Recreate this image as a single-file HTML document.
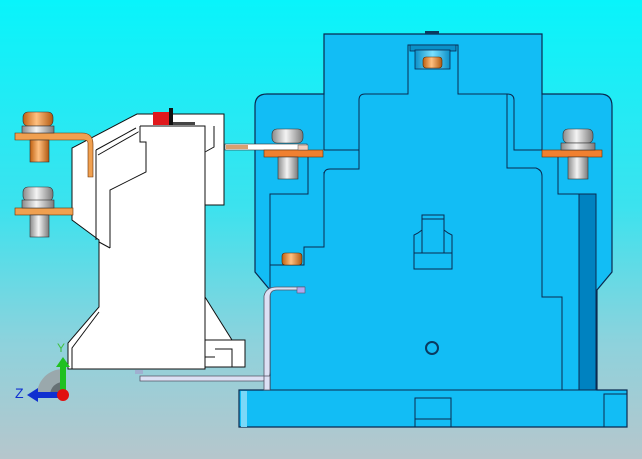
<!DOCTYPE html>
<html><head><meta charset="utf-8"><style>
html,body{margin:0;padding:0;width:642px;height:459px;overflow:hidden}
svg{display:block}
</style></head><body>
<svg width="642" height="459" viewBox="0 0 642 459" xmlns="http://www.w3.org/2000/svg">
<defs>
<linearGradient id="bg" x1="0" y1="0" x2="0" y2="1">
<stop offset="0" stop-color="#08f4fb"/><stop offset="0.45" stop-color="#3ce2ee"/><stop offset="0.75" stop-color="#8ed2dc"/><stop offset="1" stop-color="#b6c6cc"/>
</linearGradient>
<linearGradient id="silver" x1="0" y1="0" x2="1" y2="0">
<stop offset="0" stop-color="#8a8a8a"/><stop offset="0.45" stop-color="#f4f4f4"/><stop offset="1" stop-color="#7a7a7a"/>
</linearGradient>
<linearGradient id="copper" x1="0" y1="0" x2="1" y2="0">
<stop offset="0" stop-color="#c06010"/><stop offset="0.45" stop-color="#ffc080"/><stop offset="1" stop-color="#b05810"/>
</linearGradient>
<linearGradient id="recess" x1="0" y1="0" x2="1" y2="0">
<stop offset="0" stop-color="#0a90c8"/><stop offset="0.5" stop-color="#7ae0ff"/><stop offset="1" stop-color="#0a90c8"/>
</linearGradient>
</defs>
<rect width="642" height="459" fill="url(#bg)"/>

<!-- main contactor body -->
<g stroke="#0a2a50" stroke-width="1.2" fill="#12bdf5">
<path d="M324,94 L324,34 L542,34 L542,94 L600,94 Q612,94 612,106 L612,272 L597,290 L597,390 L627,390 L627,427 L239,427 L239,390 L270,390 L270,290 L255,272 L255,106 Q255,94 267,94 Z"/>
</g>
<g stroke="#0a2a50" stroke-width="1" fill="none">
<path d="M255,283"/>
<line x1="324" y1="36" x2="324" y2="150"/>
<line x1="542" y1="36" x2="542" y2="150"/>
<path d="M324,150 L359,150 L359,100 Q359,94 365,94 L408,94 L408,45 L458,45 L458,94 L507,94 Q514,94 514,100 L514,150 L542,150"/>
<path d="M359,150 L359,169 L330,169 Q324,169 324,175 L324,247 L304,247 L304,265 L270,265"/>
<line x1="324" y1="172" x2="324" y2="247"/>
<path d="M507,94 L507,168 L536,168 Q542,170 542,176 L542,297 L562,297 L562,390"/>
<path d="M270,290 L270,194 L308,194 L308,157"/>
<path d="M558,157 L558,194 L596,194"/>
<line x1="239" y1="390" x2="627" y2="390"/>
<path d="M415,427 L415,398 L451,398 L451,427 M415,419 L451,419"/>
<path d="M604,427 L604,394 L627,394"/>
<path d="M414,269 L414,253 L452,253 L452,269 Z M414,253 L414,235 L418,233 L422,230 L422,215 L444,215 L444,230 L448,233 L452,235 L452,253 M422,219 L444,219 M422,230 L422,253 M444,230 L444,253"/>
</g>
<rect x="579" y="194" width="17" height="196" fill="#0082c0" stroke="#0a2a50" stroke-width="1"/>
<circle cx="432" cy="348" r="6" fill="none" stroke="#0a3a60" stroke-width="2"/>
<rect x="410" y="45" width="46" height="6" fill="#0a90c8" stroke="#0a2a50" stroke-width="0.8"/>
<rect x="415" y="50" width="35" height="19" fill="url(#recess)" stroke="#0a2a50" stroke-width="0.8"/>
<rect x="423" y="57" width="19" height="11" rx="3" fill="url(#copper)" stroke="#5a2a00" stroke-width="0.6"/>
<rect x="425" y="31" width="14" height="3" fill="#0a3a60"/>
<rect x="241" y="391" width="6" height="36" fill="#7ad8f8"/>
<!-- small copper nut left -->
<rect x="282" y="253" width="20" height="12" rx="3" fill="url(#copper)" stroke="#5a2a00" stroke-width="0.6"/>
<!-- bent bracket -->
<path d="M305,290 L277,290 Q270,290 270,297 L270,372 Q270,381 262,381 L140,381 L140,376 L264,376 L264,296 Q266,287 277,287 L305,287" fill="#dce0f4" stroke="#556" stroke-width="0.8"/>
<rect x="264" y="376" width="6" height="14" fill="#dce0f4" stroke="#556" stroke-width="0.8"/>
<rect x="297" y="287" width="8" height="6" fill="#b0a8f0" stroke="#556" stroke-width="0.6"/>

<!-- relay (white) -->
<g stroke="#111" stroke-width="1" fill="#fff">
<path d="M137,114 L224,114 L224,205 L205,205 L205,297 L232,340 L245,340 L245,367 L205,367 L205,369 L68,369 L68,343 L99,307 L99,240 L72,220 L72,148 Z"/>
<path d="M140,126 L205,126 L205,369 L72,369 L72,348 L99,312"/>
<path d="M96,150 L136,128 M98,155 L140,131"/>
<path d="M140,126 L140,142 L146,142 L146,172 L110,190 L110,248 M99,242 L110,248 M214,126 L214,147 L205,152"/>
<path d="M205,340 L245,340 M215,349 L232,349 L232,367 M205,357 L215,357"/>
<path d="M96,150 L96,240"/>
</g>
<rect x="153" y="112" width="16" height="13" fill="#e0181c"/>
<rect x="169" y="108" width="4" height="17" fill="#111"/>
<rect x="173" y="122" width="22" height="3" fill="#444"/>
<rect x="135" y="370" width="8" height="4" fill="#a0b0d0"/>
<!-- wire to main -->
<rect x="225" y="144" width="82" height="6" fill="#fff" stroke="#333" stroke-width="0.6"/>
<rect x="226" y="145" width="22" height="4" fill="#d8a070"/>

<!-- left copper bars -->
<path d="M15,133 L82,133 Q93,133 93,144 L93,177 L88,177 L88,143 Q88,140 84,140 L15,140 Z" fill="#f0a050" stroke="#6a3000" stroke-width="0.6"/>
<rect x="15" y="208" width="58" height="7" fill="#f0a050" stroke="#6a3000" stroke-width="0.6"/>
<!-- copper bolt top -->
<rect x="30" y="140" width="19" height="22" fill="url(#copper)" stroke="#333" stroke-width="0.6"/>
<rect x="23" y="112" width="30" height="14" rx="5" fill="url(#copper)" stroke="#333" stroke-width="0.6"/>
<rect x="22" y="126" width="32" height="7" fill="url(#silver)" stroke="#333" stroke-width="0.6"/>
<!-- silver bolt lower -->
<rect x="30" y="215" width="19" height="22" fill="url(#silver)" stroke="#333" stroke-width="0.6"/>
<rect x="23" y="187" width="30" height="14" rx="5" fill="url(#silver)" stroke="#333" stroke-width="0.6"/>
<rect x="22" y="200" width="32" height="8" fill="url(#silver)" stroke="#333" stroke-width="0.6"/>

<!-- main left bolt -->
<rect x="264" y="150" width="59" height="7" fill="#f08030" stroke="#6a3000" stroke-width="0.6"/>
<rect x="278" y="157" width="20" height="22" fill="url(#silver)" stroke="#333" stroke-width="0.6"/>
<rect x="272" y="129" width="31" height="14" rx="5" fill="url(#silver)" stroke="#333" stroke-width="0.6"/>
<rect x="298" y="145" width="10" height="5" fill="#f0d0c0" stroke="#555" stroke-width="0.5"/>
<!-- main right bolt -->
<rect x="542" y="150" width="60" height="7" fill="#f08030" stroke="#6a3000" stroke-width="0.6"/>
<rect x="568" y="157" width="20" height="22" fill="url(#silver)" stroke="#333" stroke-width="0.6"/>
<rect x="563" y="129" width="30" height="14" rx="5" fill="url(#silver)" stroke="#333" stroke-width="0.6"/>
<rect x="561" y="143" width="34" height="7" fill="url(#silver)" stroke="#333" stroke-width="0.6"/>

<!-- axis triad -->
<path d="M37,395 A26,26 0 0 1 63,369 L63,395 Z" fill="#9aa8ac"/>
<path d="M50,395 A13,13 0 0 1 63,382 L63,395 Z" fill="#667074"/>
<rect x="60" y="365" width="6" height="30" fill="#20c020"/>
<polygon points="56,367 63,357 70,367" fill="#20c020"/>
<rect x="36" y="392" width="26" height="6" fill="#1030d0"/>
<polygon points="38,388 27,395 38,402" fill="#1030d0"/>
<circle cx="63" cy="395" r="6" fill="#e01010"/>
<text x="15" y="398" font-family="Liberation Sans, sans-serif" font-size="14" fill="#1030d0">Z</text>
<text x="57" y="352" font-family="Liberation Sans, sans-serif" font-size="12" fill="#40c040">Y</text>
</svg>
</body></html>
